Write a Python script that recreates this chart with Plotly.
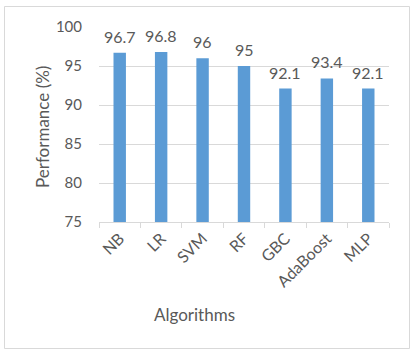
import plotly.graph_objects as go

algorithms = ["NB", "LR", "SVM", "RF", "GBC", "AdaBoost", "MLP"]
performance = [96.7, 96.8, 96, 95, 92.1, 93.4, 92.1]
labels = ["96.7", "96.8", "96", "95", "92.1", "93.4", "92.1"]

W, H = 414, 355
L, R, T, B = 99, 25, 27, 133
pw, ph = W - L - R, H - T - B
FONT = "Lato, 'Open Sans', sans-serif"
TC = "#595959"

fig = go.Figure(go.Bar(
    x=algorithms, y=performance, cliponaxis=False,
    marker=dict(color="#5B9BD5", line=dict(width=0)),
))

for a, v, t in zip(algorithms, performance, labels):
    fig.add_annotation(x=a, y=v, text=t, showarrow=False, yanchor="bottom",
                       yshift=5, font=dict(size=16, color=TC, family=FONT))

def px_x(p):
    return (p - L) / pw

def px_y(p):
    return (H - B - p) / ph

fig.add_shape(type="rect", xref="paper", yref="paper",
              x0=px_x(4.5), x1=px_x(409.5), y0=px_y(348.5), y1=px_y(6.5),
              line=dict(color="#D9D9D9", width=1), fillcolor="rgba(0,0,0,0)")

fig.add_annotation(xref="paper", yref="paper", x=px_x(194), y=px_y(314),
                   text="Algorithms", showarrow=False, xanchor="center", yanchor="middle",
                   font=dict(size=17, color=TC, family=FONT))

fig.add_annotation(xref="paper", yref="paper", x=px_x(43), y=px_y(127),
                   text="Performance (%)", showarrow=False, textangle=-90,
                   xanchor="center", yanchor="middle",
                   font=dict(size=17, color=TC, family=FONT))

fig.update_layout(
    width=W, height=H,
    margin=dict(l=L, r=R, t=T, b=B),
    paper_bgcolor="white", plot_bgcolor="white",
    bargap=0.7, showlegend=False,
    font=dict(family=FONT, color=TC),
    xaxis=dict(
        tickangle=-45, tickfont=dict(size=16, color=TC),
        showline=True, linecolor="#D9D9D9", linewidth=1,
        ticks="outside", tickson="boundaries", ticklen=5, tickcolor="#D9D9D9",
        showgrid=False,
    ),
    yaxis=dict(
        range=[75, 100], dtick=5, tickfont=dict(size=15, color=TC),
        showgrid=True, gridcolor="#D9D9D9", gridwidth=1,
        zeroline=False, showline=False, ticks="", ticklabelstandoff=16,
    ),
)

fig.write_html("out.html")
